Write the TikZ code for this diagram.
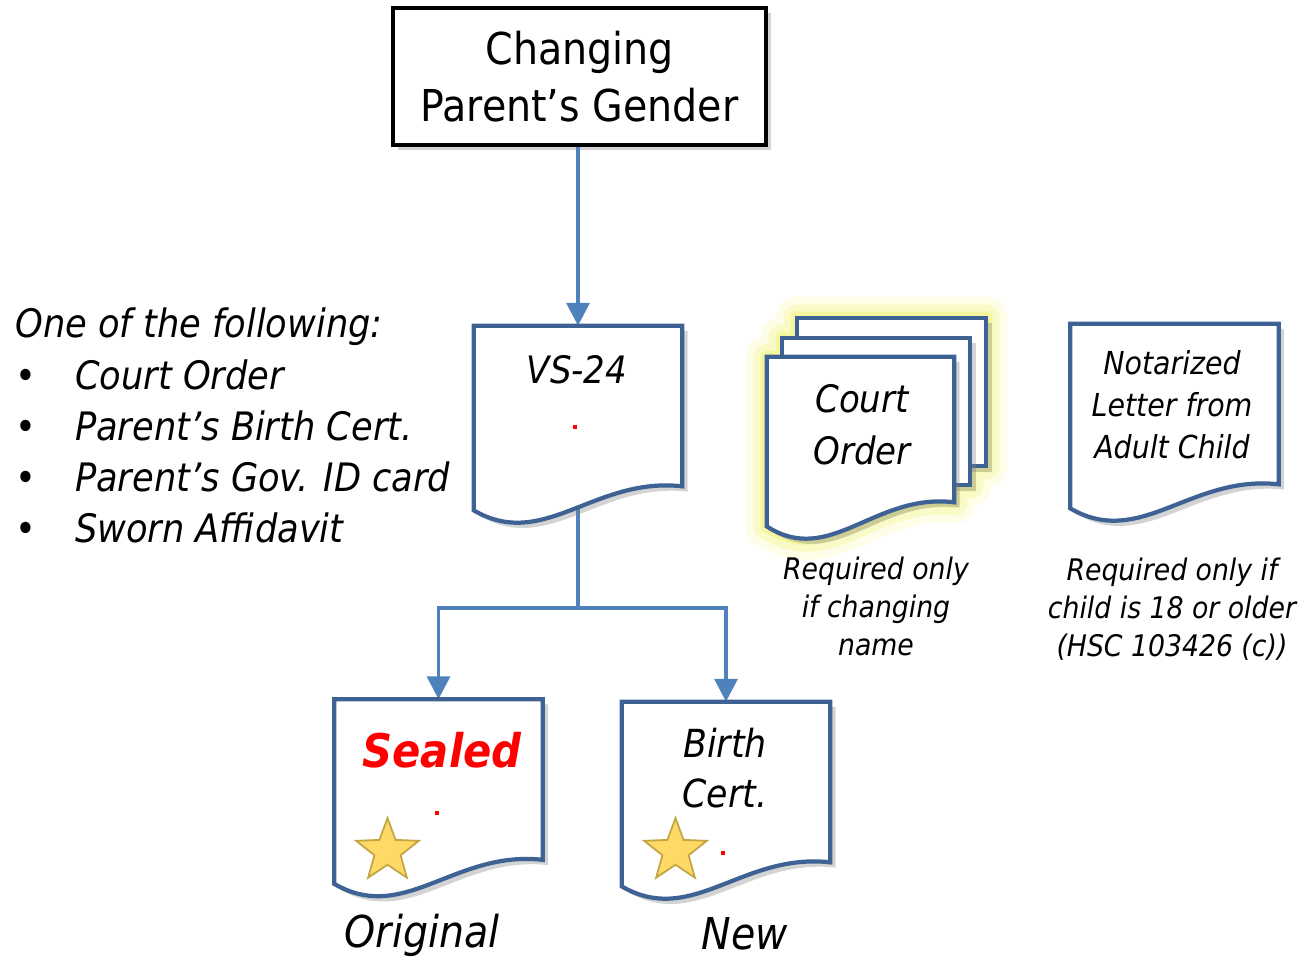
\documentclass[tikz,border=0pt]{standalone}
\usepackage{fontspec}
\setmainfont{DejaVu Sans Condensed}
\usetikzlibrary{arrows.meta,calc,shadows,shapes.geometric}

\definecolor{flowblue}{RGB}{79,129,189}
\definecolor{docblue}{RGB}{62,98,148}
\definecolor{starfill}{RGB}{255,217,102}
\definecolor{stardraw}{RGB}{196,165,70}
\definecolor{glowyellow}{RGB}{240,240,100}
\definecolor{sealred}{RGB}{255,0,0}

% page outline with a wavy bottom, drawn round a named node
\newcommand\docpath[2][docline]{%
  \path[#1] (#2.north west) -- (#2.north east) -- (#2.south east)
    .. controls ($(#2.south west)!0.577!(#2.south east)+(0,-10)$)
    and ($(#2.south west)!0.337!(#2.south east)+(0,65)$)
    .. ($(#2.south west)+(0,24)$) -- cycle;}

\begin{document}
\begin{tikzpicture}[x=0.02cm, y=-0.02cm,
    titlebox/.style={draw=black, line width=1.8pt, fill=white, inner sep=0pt,
      minimum width=7.46cm, minimum height=2.74cm, align=center,
      drop shadow={shadow xshift=3pt, shadow yshift=-3pt, opacity=0.35},
      font=\fontsize{25}{32.3}\selectfont},
    docnode/.style={inner sep=0pt, minimum width=4.16cm, minimum height=3.2cm},
    docline/.style={draw=docblue, line width=2.4pt, fill=white,
      drop shadow={shadow xshift=3pt, shadow yshift=-3pt, opacity=0.35}},
    glow/.style={draw=glowyellow, fill=glowyellow, line join=round},
    flowline/.style={draw=flowblue, line width=2.2pt},
    flow/.style={flowline, -{Triangle[length=13pt, width=13pt]}},
    doctext/.style={inner sep=0pt, align=center, font=\itshape\fontsize{21.5}{29.5}\selectfont},
    notetext/.style={inner sep=0pt, align=center, font=\itshape\fontsize{18}{23.8}\selectfont},
    smalltext/.style={inner sep=0pt, align=center, font=\itshape\fontsize{16.9}{21.5}\selectfont},
    listtext/.style={inner sep=0pt, anchor=base west, font=\itshape\fontsize{22.3}{29}\selectfont},
    captiontext/.style={inner sep=0pt, anchor=base, font=\itshape\fontsize{25}{30}\selectfont},
    starmark/.style={star, star points=5, star point ratio=2.4, minimum size=1.32cm,
      inner sep=0pt, fill=starfill, draw=stardraw, line width=1pt}]
\useasboundingbox (0,0) rectangle (1304,957);

% boxes
\node[titlebox] (title) at (579.5,76.5) {Changing\\Parent’s Gender};
\node[docnode] (vs24) at (578,406) {};
\node[docnode, minimum width=3.78cm, minimum height=2.96cm] (back2) at (891.5,392) {};
\node[docnode, minimum width=3.76cm, minimum height=2.94cm] (back1) at (876,411.5) {};
\node[docnode, minimum width=3.74cm, minimum height=2.9cm] (court) at (860.5,429.5) {};
\node[docnode] (notary) at (1174.5,404) {};
\node[docnode] (sealed) at (438.5,779.5) {};
\node[docnode] (birth) at (726,782) {};
\coordinate (fork) at (578,608);

% yellow halo behind the court order pages
\foreach \gw/\gop in {24pt/0.15, 15pt/0.25, 7pt/0.4} {
  \begin{scope}[transparency group, opacity=\gop]
    \path[glow, line width=\gw] (back2.north west) rectangle (back2.south east);
    \path[glow, line width=\gw] (back1.north west) rectangle (back1.south east);
    \docpath[glow, line width=\gw]{court}
  \end{scope}}

% connectors
\draw[flow] (title.south -| vs24.north) -- (vs24.north);
\draw[flowline] (vs24.center) -- (fork);
\draw[flow] (fork) -| (sealed.north);
\draw[flow] (fork) -| (birth.north);

% pages
\docpath{vs24}
\path[docline] (back2.north west) rectangle (back2.south east);
\path[docline] (back1.north west) rectangle (back1.south east);
\docpath{court}
\docpath{notary}
\docpath{sealed}
\docpath{birth}

% texts
\node[listtext] (head) at (15,337) {One of the following:};
\node[listtext] (item1) at (15,389) {\makebox[34pt][l]{\upshape •}Court Order};
\node[listtext] (item2) at (15,440) {\makebox[34pt][l]{\upshape •}Parent’s Birth Cert.};
\node[listtext] (item3) at (15,491) {\makebox[34pt][l]{\upshape •}Parent’s Gov. ID card};
\node[listtext] (item4) at (15,542) {\makebox[34pt][l]{\upshape •}Sworn Affidavit};

\node[doctext, anchor=base] (vslabel) at (577,383) {VS-24};
\node[doctext] (courtlabel) at (862,425) {Court\\Order};
\node[notetext] (notarylabel) at (1172,404.5) {Notarized\\Letter from\\Adult Child};
\node[smalltext] (courtnote) at (876,606.5) {Required only\\if changing\\name};
\node[smalltext] (notarynote) at (1172,609) {Required only if\\child is 18 or older\\(HSC 103426 (c))};
\node[inner sep=0pt, anchor=base, text=sealred, font=\bfseries\itshape\fontsize{26.4}{30}\selectfont] (seallabel) at (442,767) {Sealed};
\node[doctext, font=\itshape\fontsize{22}{28.3}\selectfont] (birthlabel) at (725,768) {Birth\\Cert.};
\node[captiontext] (origlabel) at (422,947) {Original};
\node[captiontext] (newlabel) at (745,949) {New};

% stars and red marks
\node[starmark] (star1) at (387.5,851) {};
\node[starmark] (star2) at (675.5,851) {};
\fill[sealred] (573,425) rectangle +(4,4);
\fill[sealred] (435,811) rectangle +(4,4);
\fill[sealred] (721,851) rectangle +(4,4);
\end{tikzpicture}
\end{document}
